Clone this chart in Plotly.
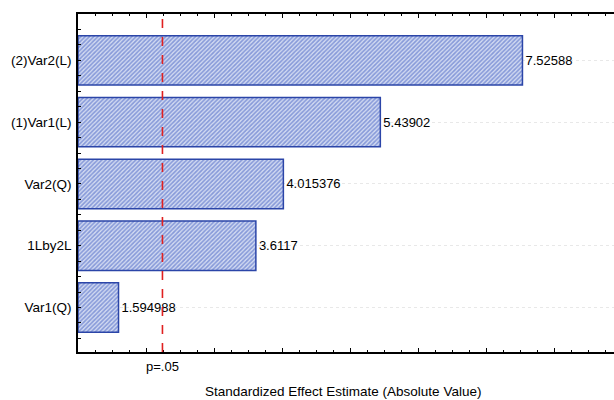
import plotly.graph_objects as go

categories = ["Var1(Q)", "1Lby2L", "Var2(Q)", "(1)Var1(L)", "(2)Var2(L)"]
effects = [1.594988, 3.6117, 4.015376, 5.43902, 7.52588]
effect_labels = ["1.594988", "3.6117", "4.015376", "5.43902", "7.52588"]
p_crit = 2.24
p_label = "p=.05"
x_title = "Standardized Effect Estimate (Absolute Value)"
axis_start = 1

ypos = list(range(len(categories)))
font_family = "Liberation Sans, Arial, sans-serif"

fig = go.Figure()
fig.add_trace(go.Bar(
    x=[e - axis_start for e in effects],
    y=ypos,
    base=axis_start,
    orientation="h",
    width=0.8,
    text=effect_labels,
    textposition="outside",
    textfont=dict(family=font_family, size=13, color="black"),
    cliponaxis=False,
    marker=dict(
        color="white",
        line=dict(color="#2b45a8", width=1.5),
        pattern=dict(shape="/", fgcolor="#3a58c0", bgcolor="#d4dcf2",
                     size=3, solidity=0.55),
    ),
    showlegend=False,
))

fig.add_shape(type="line", xref="x", yref="paper", x0=p_crit, x1=p_crit, y0=0, y1=1,
              line=dict(color="#e02020", width=1.6, dash="dash"), layer="above")

fig.add_annotation(x=p_crit, y=-0.044, xref="x", yref="paper", text=p_label,
                   showarrow=False, yanchor="middle",
                   font=dict(family=font_family, size=13, color="black"))

fig.add_annotation(x=0.495, y=-0.117, xref="paper", yref="paper", text=x_title,
                   showarrow=False, yanchor="middle",
                   font=dict(family=font_family, size=13.5, color="black"))

fig.update_layout(
    width=614, height=400,
    margin=dict(l=78, r=0, t=14, b=48, autoexpand=False),
    plot_bgcolor="white", paper_bgcolor="white",
    font=dict(family=font_family, size=13, color="black"),
    bargap=0.2,
)
fig.update_xaxes(
    range=[axis_start, 8.87], automargin=False,
    showline=True, linecolor="black", linewidth=1.5, mirror="ticks",
    ticks="inside", dtick=1, tick0=axis_start, ticklen=4, tickcolor="black", tickwidth=1,
    minor=dict(ticks="inside", dtick=0.25, ticklen=2, tickcolor="black"),
    showticklabels=False, showgrid=False, zeroline=False,
)
fig.update_yaxes(
    range=[-0.72, 4.75], automargin=False,
    tickvals=ypos, ticktext=categories,
    showline=True, linecolor="black", linewidth=1.5,
    ticks="inside", ticklen=3, tickcolor="black", tickwidth=1,
    minor=dict(ticks="inside", dtick=0.25, tick0=0, ticklen=3, tickcolor="black"),
    showgrid=True, gridcolor="#e8e8e8", griddash="dot", gridwidth=1,
    zeroline=False, ticklabelstandoff=2,
    tickfont=dict(family=font_family, size=13.5),
)

fig.write_html("out.html", config={"displayModeBar": False},
               post_script="document.body.style.margin='0px';document.body.style.overflow='hidden';")
